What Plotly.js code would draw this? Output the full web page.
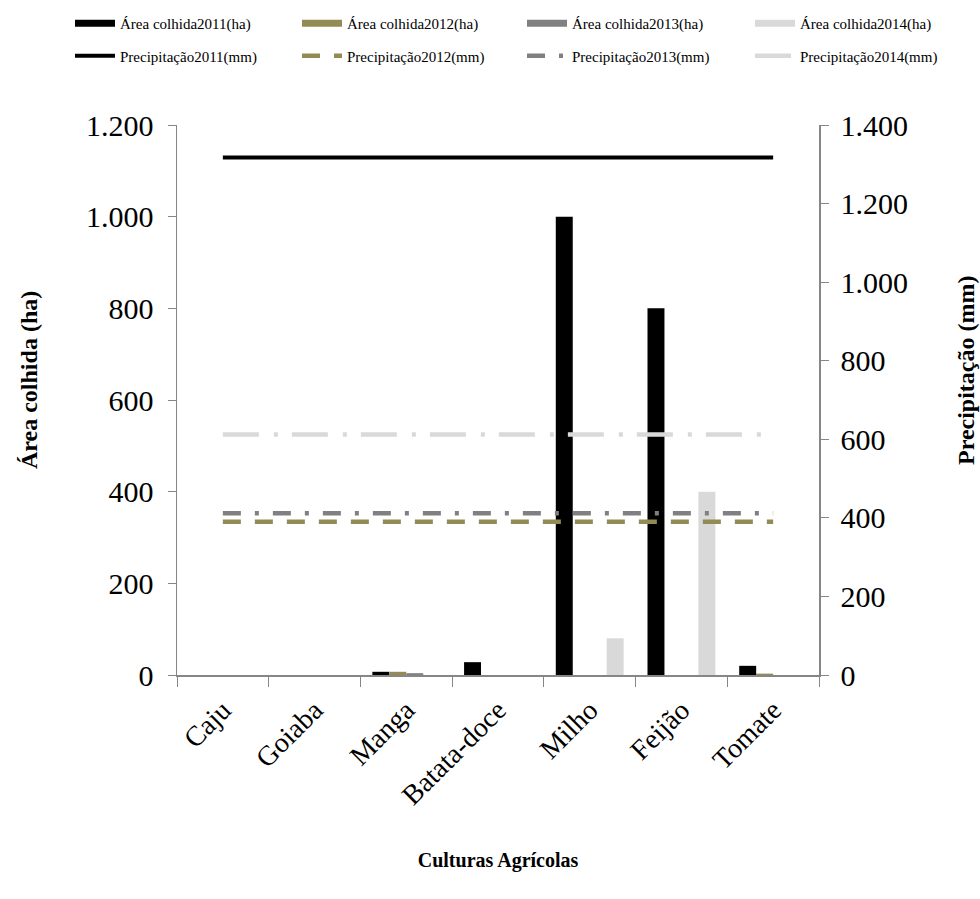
<!DOCTYPE html>
<html>
<head>
<meta charset="utf-8">
<script src="https://cdn.plot.ly/plotly-3.0.1.min.js"></script>
<style>html,body{margin:0;padding:0;background:#fff;}#chart{width:980px;height:899px;}</style>
</head>
<body>
<div id="chart"></div>
<script>
var categories = ["Caju", "Goiaba", "Manga", "Batata-doce", "Milho", "Feijão", "Tomate"];
var area2011 = [0, 0, 7, 28, 1000, 800, 20];
var area2012 = [0, 0, 7, 0, 0, 0, 3];
var area2013 = [0, 0, 4, 0, 0, 0, 0];
var area2014 = [0, 0, 0, 0, 80, 400, 0];
var precip2011 = [1317, 1317, 1317, 1317, 1317, 1317, 1317];
var precip2012 = [390, 390, 390, 390, 390, 390, 390];
var precip2013 = [412, 412, 412, 412, 412, 412, 412];
var precip2014 = [612, 612, 612, 612, 612, 612, 612];
var areaNames = ["Área colhida2011(ha)", "Área colhida2012(ha)", "Área colhida2013(ha)", "Área colhida2014(ha)"];
var precipNames = ["Precipitação2011(mm)", "Precipitação2012(mm)", "Precipitação2013(mm)", "Precipitação2014(mm)"];
var yTitleLeft = "Área colhida (ha)";
var yTitleRight = "Precipitação (mm)";
var xTitle = "Culturas Agrícolas";

var colors = ["#000000", "#948A54", "#808080", "#D9D9D9"];
var dashes = ["solid", "18px,14px", "18px,14px,4px,14px", "36px,15px,4px,14px"];
var areas = [area2011, area2012, area2013, area2014];
var precs = [precip2011, precip2012, precip2013, precip2014];
var legendIds = ["legend", "legend2", "legend3", "legend4"];

var serif = "Liberation Serif, Times New Roman, serif";
var traces = [];
// legend-only helper entries for bars (thick line symbols, like the original legend)
for (var i = 0; i < 4; i++) {
  traces.push({
    type: "scatter", mode: "lines", x: [null], y: [null],
    name: areaNames[i], line: {color: colors[i], width: 7},
    legend: legendIds[i], legendgroup: "a" + i, hoverinfo: "skip"
  });
}
for (var i = 0; i < 4; i++) {
  traces.push({
    type: "bar", x: categories, y: areas[i], name: areaNames[i],
    marker: {color: colors[i], line: {width: 0}},
    showlegend: false, yaxis: "y"
  });
}
for (var i = 0; i < 4; i++) {
  traces.push({
    type: "scatter", mode: "lines", x: categories, y: precs[i], name: precipNames[i],
    line: {color: colors[i], width: i === 0 ? 4 : 4.5, dash: dashes[i]},
    yaxis: "y2", legend: legendIds[i], legendgroup: "p" + i
  });
}

var tickFont = {family: serif, size: 30, color: "#000"};
var titleFont = {family: serif, size: 24, color: "#000", weight: "bold"};
var legendXs = [70, 297, 522, 750];

var layout = {
  width: 980, height: 899,
  margin: {l: 177, r: 161, t: 125, b: 224, autoexpand: false},
  paper_bgcolor: "#fff", plot_bgcolor: "#fff",
  separators: ",.",
  barmode: "group", bargap: 0.26, bargroupgap: 0,
  showlegend: true,
  xaxis: {
    type: "category", tickson: "boundaries",
    showline: true, linecolor: "#868686", linewidth: 1.5,
    ticks: "outside", ticklen: 10, tickcolor: "#868686",
    tickangle: -45, tickfont: {family: serif, size: 28, color: "#000"},
    ticklabelstandoff: 6,
    showgrid: false, zeroline: false,
    title: {text: xTitle, font: {family: serif, size: 20, color: "#000", weight: "bold"}, standoff: 43}
  },
  yaxis: {
    range: [0, 1200], dtick: 200, tickformat: ",d",
    showline: true, linecolor: "#868686", linewidth: 1.5,
    ticks: "outside", ticklen: 8, tickcolor: "#868686",
    tickfont: tickFont, ticklabelstandoff: 8,
    showgrid: false, zeroline: false
  },
  yaxis2: {
    overlaying: "y", side: "right",
    range: [0, 1400], dtick: 200, tickformat: ",d",
    showline: true, linecolor: "#868686", linewidth: 1.5,
    ticks: "outside", ticklen: 8, tickcolor: "#868686",
    tickfont: tickFont, ticklabelstandoff: 6,
    showgrid: false, zeroline: false
  },
  annotations: [
    {text: yTitleLeft, xref: "paper", yref: "paper", x: (29 - 177) / 642, y: (675 - 380) / 550,
     xanchor: "center", yanchor: "middle", textangle: -90, showarrow: false, font: titleFont},
    {text: yTitleRight, xref: "paper", yref: "paper", x: (966 - 177) / 642, y: (675 - 371) / 550,
     xanchor: "center", yanchor: "middle", textangle: -90, showarrow: false, font: titleFont}
  ]
};
for (var i = 0; i < 4; i++) {
  layout[legendIds[i]] = {
    orientation: "v", xref: "container", yref: "container",
    x: legendXs[i] / 980, y: 1 - 7 / 899, xanchor: "left", yanchor: "top",
    tracegroupgap: 10, traceorder: "grouped",
    font: {family: serif, size: 15, color: "#000"},
    itemwidth: 40, bgcolor: "rgba(0,0,0,0)"
  };
}

Plotly.newPlot("chart", traces, layout, {staticPlot: true, displayModeBar: false});
</script>
</body>
</html>
